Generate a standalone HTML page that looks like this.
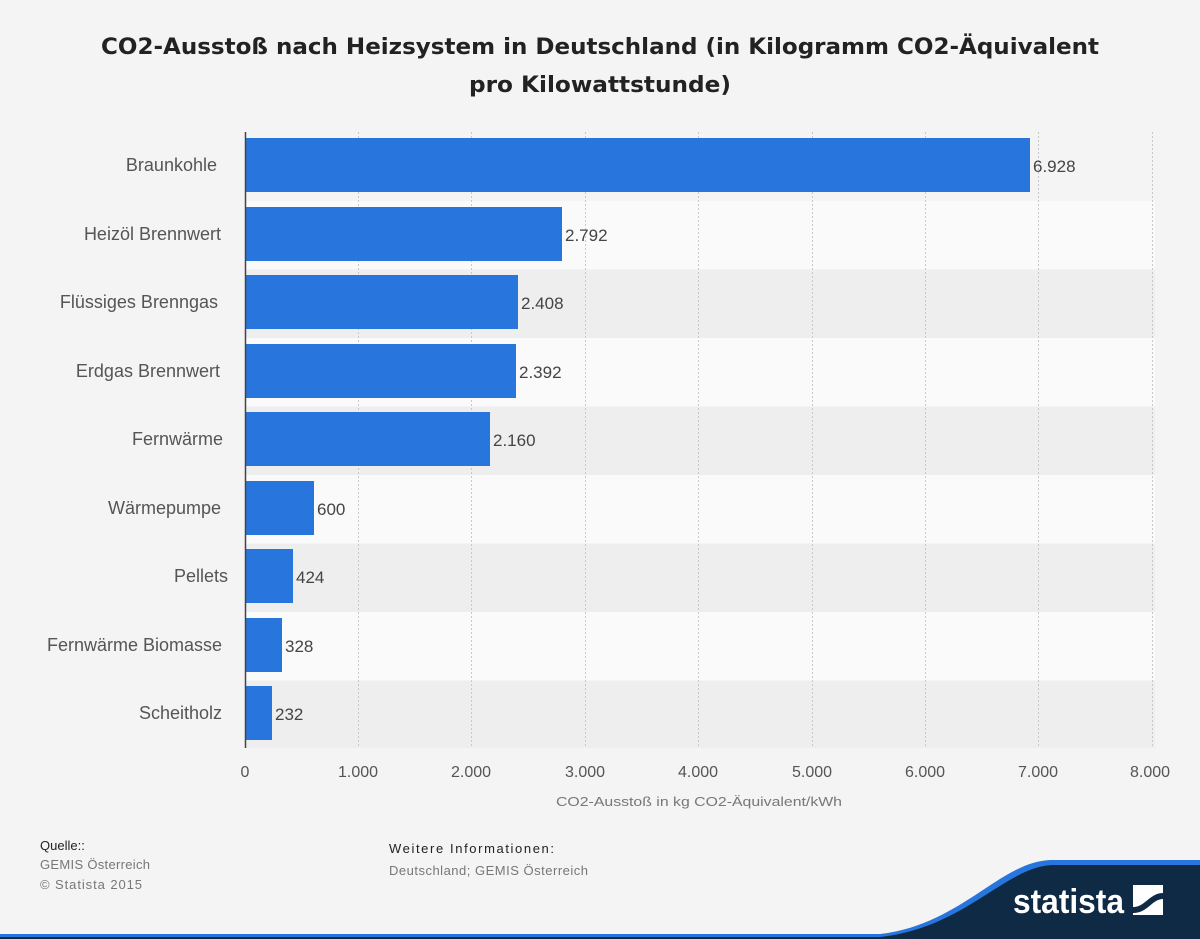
<!DOCTYPE html>
<html><head><meta charset="utf-8"><style>
html,body{margin:0;padding:0;background:#f4f4f4;}
svg{display:block;font-family:"Liberation Sans","DejaVu Sans",sans-serif;}
</style></head><body>
<svg width="1200" height="939" viewBox="0 0 1200 939" xmlns="http://www.w3.org/2000/svg">
<rect width="1200" height="939" fill="#f4f4f4"/>
<text x="600" y="54" text-anchor="middle" font-size="22" font-weight="bold" fill="#222" font-family="DejaVu Sans, sans-serif" textLength="998" lengthAdjust="spacingAndGlyphs">CO2-Ausstoß nach Heizsystem in Deutschland (in Kilogramm CO2-Äquivalent</text>
<text x="600" y="92" text-anchor="middle" font-size="22" font-weight="bold" fill="#222" font-family="DejaVu Sans, sans-serif" textLength="262" lengthAdjust="spacingAndGlyphs">pro Kilowattstunde)</text>
<g fill="#fafafa">
<rect x="245" y="201" width="910" height="68.5"/>
<rect x="245" y="338" width="910" height="68.5"/>
<rect x="245" y="475" width="910" height="68.5"/>
<rect x="245" y="612" width="910" height="68.5"/>
</g>
<g fill="#eeeeee">
<rect x="245" y="269.5" width="910" height="68.5"/>
<rect x="245" y="406.5" width="910" height="68.5"/>
<rect x="245" y="543.5" width="910" height="68.5"/>
<rect x="245" y="680.5" width="910" height="67.5"/>
</g>
<g stroke="#c8c8c8" stroke-dasharray="2,2" stroke-width="1">
<line x1="358.5" y1="132" x2="358.5" y2="748"/><line x1="471.5" y1="132" x2="471.5" y2="748"/>
<line x1="585.5" y1="132" x2="585.5" y2="748"/><line x1="698.5" y1="132" x2="698.5" y2="748"/>
<line x1="812.5" y1="132" x2="812.5" y2="748"/><line x1="925.5" y1="132" x2="925.5" y2="748"/>
<line x1="1038.5" y1="132" x2="1038.5" y2="748"/><line x1="1152.5" y1="132" x2="1152.5" y2="748"/>
</g>
<g fill="#2876dd">
<rect x="246" y="138" width="784" height="54"/>
<rect x="246" y="207" width="316" height="54"/>
<rect x="246" y="275" width="272" height="54"/>
<rect x="246" y="344" width="270" height="54"/>
<rect x="246" y="412" width="244" height="54"/>
<rect x="246" y="481" width="68" height="54"/>
<rect x="246" y="549" width="47" height="54"/>
<rect x="246" y="618" width="36" height="54"/>
<rect x="246" y="686" width="26" height="54"/>
</g>
<line x1="245.5" y1="132" x2="245.5" y2="748" stroke="#444" stroke-width="1.5"/>
<g font-size="18" fill="#555" text-anchor="end">
<text x="217" y="171">Braunkohle</text>
<text x="221" y="240">Heizöl Brennwert</text>
<text x="218" y="308">Flüssiges Brenngas</text>
<text x="220" y="377">Erdgas Brennwert</text>
<text x="223" y="445">Fernwärme</text>
<text x="221" y="514">Wärmepumpe</text>
<text x="228" y="582">Pellets</text>
<text x="222" y="651" textLength="175" lengthAdjust="spacingAndGlyphs">Fernwärme Biomasse</text>
<text x="222" y="719">Scheitholz</text>
</g>
<g font-size="17" fill="#444">
<text x="1033" y="172">6.928</text>
<text x="565" y="241">2.792</text>
<text x="521" y="309">2.408</text>
<text x="519" y="378">2.392</text>
<text x="493" y="446">2.160</text>
<text x="317" y="515">600</text>
<text x="296" y="583">424</text>
<text x="285" y="652">328</text>
<text x="275" y="720">232</text>
</g>
<g font-size="16" fill="#555" text-anchor="middle">
<text x="245" y="777">0</text><text x="358" y="777">1.000</text><text x="471" y="777">2.000</text>
<text x="585" y="777">3.000</text><text x="698" y="777">4.000</text><text x="812" y="777">5.000</text>
<text x="925" y="777">6.000</text><text x="1038" y="777">7.000</text><text x="1150" y="777">8.000</text>
</g>
<text x="699" y="806" text-anchor="middle" font-size="13" fill="#777" textLength="286" lengthAdjust="spacingAndGlyphs">CO2-Ausstoß in kg CO2-Äquivalent/kWh</text>
<text x="40" y="850" font-size="13" fill="#222">Quelle::</text>
<text x="40" y="869" font-size="13" fill="#777" textLength="110">GEMIS Österreich</text>
<text x="40" y="889" font-size="13" fill="#777" textLength="102">© Statista 2015</text>
<text x="389" y="853" font-size="13" fill="#222" textLength="165">Weitere Informationen:</text>
<text x="389" y="875" font-size="13" fill="#777" textLength="199">Deutschland; GEMIS Österreich</text>
<path d="M0 934 L880 934 C960 925 1000 862 1050 860 L1200 860 L1200 939 L0 939 Z" fill="#2876dd"/>
<path d="M0 937 L880 937 C965 928 1005 867 1052 865 L1200 865 L1200 939 L0 939 Z" fill="#0f2a45"/>
<text x="1013" y="913" font-size="34" font-weight="bold" fill="#fff" textLength="111" lengthAdjust="spacingAndGlyphs">statista</text>
<rect x="1133" y="885" width="30" height="30" fill="#fff"/>
<path d="M1133 907 C1145 907 1150 893 1163 893 L1163 899 C1152 899 1148 913 1133 913 Z" fill="#0f2a45"/>
</svg>
</body></html>
